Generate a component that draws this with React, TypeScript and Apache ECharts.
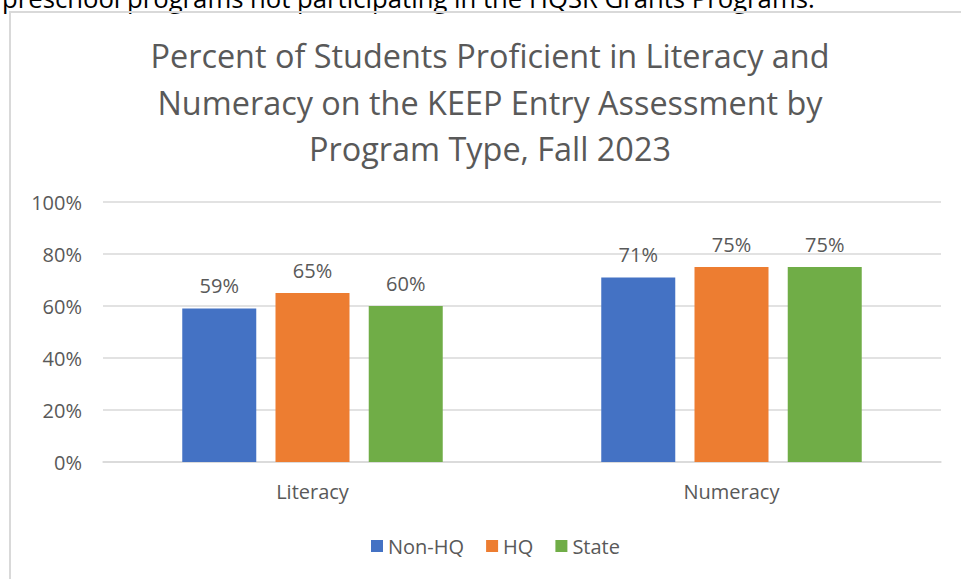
import React, { useEffect, useRef } from "react";
import * as echarts from "echarts";

const categories = ["Literacy", "Numeracy"];
const seriesNames = ["Non-HQ", "HQ", "State"];
const nonHQ = [59, 71];
const hq = [65, 75];
const state = [60, 75];
const yTicks = { min: 0, max: 100, interval: 20 };
const colors = ["#4472C4", "#ED7D31", "#70AD47"];
const titleText =
  "Percent of Students Proficient in Literacy and\nNumeracy on the KEEP Entry Assessment by\nProgram Type, Fall 2023";
const topText = "preschool programs not participating in the HQSR Grants Programs.";

const FONT = "'Open Sans', Lato, sans-serif";
const TXT = "#595959";

export default function App() {
  const ref = useRef<HTMLDivElement>(null);
  useEffect(() => {
    if (!ref.current) return;
    const chart = echarts.init(ref.current, null, { renderer: "svg" });
    const values = [nonHQ, hq, state];
    chart.setOption({
      animation: false,
      backgroundColor: "#ffffff",
      textStyle: { fontFamily: FONT },
      title: {
        text: titleText,
        left: 490,
        top: 32,
        padding: 0,
        textAlign: "center",
        textStyle: {
          fontFamily: FONT,
          fontSize: 32.4,
          fontWeight: "normal",
          color: TXT,
          lineHeight: 46.5,
        },
      },
      graphic: [
        {
          type: "text",
          x: 2,
          y: -15,
          style: {
            text: topText,
            font: "25.7px " + FONT,
            fill: "#000000",
            verticalAlign: "top",
          },
        },
        {
          type: "polyline",
          shape: { points: [[10, 579], [10, 12], [961, 12]] },
          style: { stroke: "#d9d9d9", lineWidth: 2, fill: "none" },
        },
      ],
      legend: {
        data: seriesNames,
        left: 366,
        top: 531,
        icon: "rect",
        itemWidth: 12,
        itemHeight: 12,
        itemGap: 22,
        textStyle: { fontFamily: FONT, fontSize: 20, color: TXT },
      },
      grid: { left: 103, right: 20, top: 202, bottom: 117, containLabel: false },
      xAxis: {
        type: "category",
        data: categories,
        axisLine: { lineStyle: { color: "#d9d9d9", width: 1.5 } },
        axisTick: { show: false },
        axisLabel: { fontFamily: FONT, fontSize: 20, color: TXT, margin: 19 },
      },
      yAxis: {
        type: "value",
        min: yTicks.min,
        max: yTicks.max,
        interval: yTicks.interval,
        axisLine: { show: false },
        axisTick: { show: false },
        axisLabel: {
          formatter: "{value}%",
          fontFamily: FONT,
          fontSize: 20,
          color: TXT,
          margin: 21,
        },
        splitLine: { lineStyle: { color: "#d9d9d9", width: 1.5 } },
      },
      series: seriesNames.map((name, i) => ({
        name,
        type: "bar",
        data: values[i],
        barWidth: 74,
        barGap: "26%",
        itemStyle: { color: colors[i] },
        label: {
          show: true,
          position: "top",
          distance: 13,
          formatter: "{c}%",
          fontFamily: FONT,
          fontSize: 20,
          color: TXT,
        },
      })),
    });
    return () => chart.dispose();
  }, []);
  return (
    <div
      ref={ref}
      style={{ position: "fixed", left: 0, top: 0, width: 961, height: 579 }}
    />
  );
}
